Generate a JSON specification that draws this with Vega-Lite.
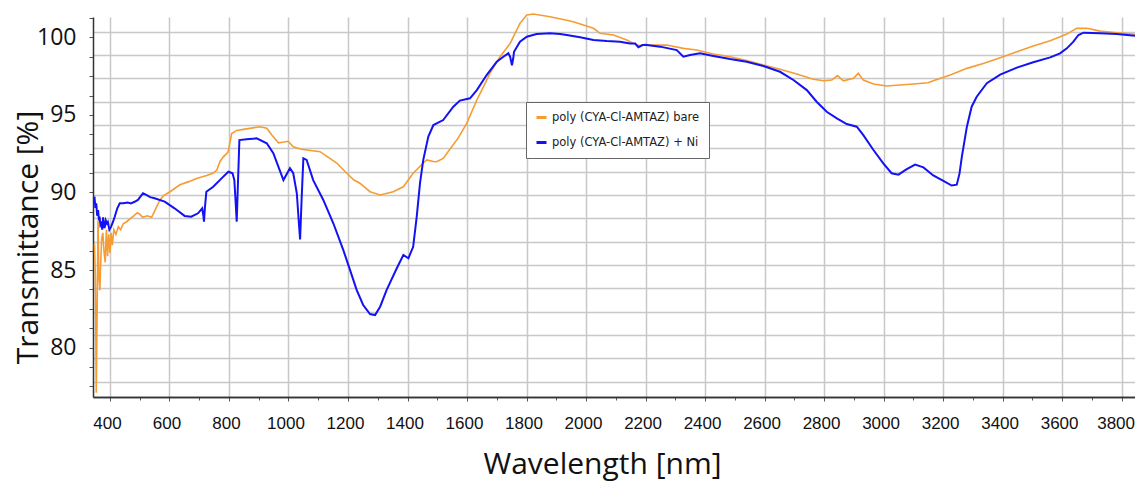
{
  "$schema": "https://vega.github.io/schema/vega-lite/v6.json",
  "width": 1042,
  "height": 380,
  "autosize": "none",
  "padding": {"left": 93, "top": 17, "right": 0, "bottom": 86},
  "background": "white",
  "config": {
    "view": {"stroke": null},
    "axis": {"domainColor": "#333333", "domainWidth": 1.5, "tickColor": "#555555", "tickSize": 4, "gridColor": "#c8c8c8", "gridWidth": 1.5, "labelColor": "#111111", "titleColor": "#111111"}
  },
  "data": {"values": [
    {"s":"b","w":348,"t":86.7},{"s":"b","w":351,"t":84.5},{"s":"b","w":354,"t":77.1},{"s":"b","w":357,"t":82.5},{"s":"b","w":360,"t":88.2},{"s":"b","w":363,"t":84.5},{"s":"b","w":366,"t":83.7},{"s":"b","w":369,"t":85.5},{"s":"b","w":372,"t":87.0},{"s":"b","w":376,"t":87.4},{"s":"b","w":380,"t":86.2},{"s":"b","w":384,"t":85.5},{"s":"b","w":388,"t":87.6},{"s":"b","w":392,"t":85.9},{"s":"b","w":396,"t":87.3},{"s":"b","w":400,"t":86.1},{"s":"b","w":404,"t":87.4},{"s":"b","w":408,"t":86.6},{"s":"b","w":413,"t":87.6},{"s":"b","w":420,"t":87.3},{"s":"b","w":428,"t":87.8},{"s":"b","w":436,"t":87.6},{"s":"b","w":445,"t":88.0},{"s":"b","w":455,"t":88.1},{"s":"b","w":467,"t":88.3},{"s":"b","w":480,"t":88.5},{"s":"b","w":492,"t":88.7},{"s":"b","w":500,"t":88.6},{"s":"b","w":510,"t":88.4},{"s":"b","w":525,"t":88.5},{"s":"b","w":540,"t":88.4},{"s":"b","w":550,"t":88.8},{"s":"b","w":560,"t":89.2},{"s":"b","w":568,"t":89.5},{"s":"b","w":580,"t":89.8},{"s":"b","w":602,"t":90.05},{"s":"b","w":635,"t":90.5},{"s":"b","w":665,"t":90.7},{"s":"b","w":691,"t":90.9},{"s":"b","w":725,"t":91.1},{"s":"b","w":746,"t":91.24},{"s":"b","w":759,"t":91.45},{"s":"b","w":770,"t":92.0},{"s":"b","w":781,"t":92.3},{"s":"b","w":797,"t":92.6},{"s":"b","w":803,"t":93.2},{"s":"b","w":809,"t":93.8},{"s":"b","w":826,"t":94.0},{"s":"b","w":859,"t":94.1},{"s":"b","w":904,"t":94.24},{"s":"b","w":927,"t":94.14},{"s":"b","w":944,"t":93.7},{"s":"b","w":966,"t":93.2},{"s":"b","w":985,"t":93.25},{"s":"b","w":999,"t":93.3},{"s":"b","w":1016,"t":92.95},{"s":"b","w":1040,"t":92.8},{"s":"b","w":1061,"t":92.74},{"s":"b","w":1106,"t":92.63},{"s":"b","w":1139,"t":92.2},{"s":"b","w":1162,"t":91.9},{"s":"b","w":1196,"t":91.24},{"s":"b","w":1220,"t":90.8},{"s":"b","w":1240,"t":90.6},{"s":"b","w":1274,"t":90.05},{"s":"b","w":1308,"t":89.84},{"s":"b","w":1352,"t":90.05},{"s":"b","w":1386,"t":90.37},{"s":"b","w":1419,"t":91.24},{"s":"b","w":1453,"t":91.9},{"s":"b","w":1465,"t":92.1},{"s":"b","w":1487,"t":92.0},{"s":"b","w":1498,"t":91.98},{"s":"b","w":1520,"t":92.2},{"s":"b","w":1543,"t":92.8},{"s":"b","w":1570,"t":93.5},{"s":"b","w":1599,"t":94.46},{"s":"b","w":1633,"t":95.96},{"s":"b","w":1655,"t":96.8},{"s":"b","w":1677,"t":97.68},{"s":"b","w":1711,"t":98.75},{"s":"b","w":1745,"t":99.61},{"s":"b","w":1778,"t":100.9},{"s":"b","w":1801,"t":101.44},{"s":"b","w":1823,"t":101.5},{"s":"b","w":1879,"t":101.33},{"s":"b","w":1935,"t":101.1},{"s":"b","w":1957,"t":101.0},{"s":"b","w":1991,"t":100.8},{"s":"b","w":2025,"t":100.58},{"s":"b","w":2047,"t":100.26},{"s":"b","w":2092,"t":100.15},{"s":"b","w":2137,"t":99.83},{"s":"b","w":2159,"t":99.61},{"s":"b","w":2180,"t":99.45},{"s":"b","w":2200,"t":99.55},{"s":"b","w":2215,"t":99.5},{"s":"b","w":2271,"t":99.5},{"s":"b","w":2327,"t":99.29},{"s":"b","w":2372,"t":99.18},{"s":"b","w":2428,"t":98.92},{"s":"b","w":2484,"t":98.75},{"s":"b","w":2540,"t":98.5},{"s":"b","w":2596,"t":98.22},{"s":"b","w":2652,"t":97.94},{"s":"b","w":2708,"t":97.64},{"s":"b","w":2764,"t":97.3},{"s":"b","w":2798,"t":97.2},{"s":"b","w":2826,"t":97.25},{"s":"b","w":2845,"t":97.53},{"s":"b","w":2865,"t":97.2},{"s":"b","w":2899,"t":97.36},{"s":"b","w":2915,"t":97.68},{"s":"b","w":2932,"t":97.25},{"s":"b","w":2966,"t":96.99},{"s":"b","w":3011,"t":96.86},{"s":"b","w":3055,"t":96.93},{"s":"b","w":3100,"t":96.99},{"s":"b","w":3150,"t":97.07},{"s":"b","w":3167,"t":97.2},{"s":"b","w":3224,"t":97.57},{"s":"b","w":3280,"t":98.0},{"s":"b","w":3335,"t":98.32},{"s":"b","w":3392,"t":98.69},{"s":"b","w":3448,"t":99.07},{"s":"b","w":3503,"t":99.44},{"s":"b","w":3560,"t":99.78},{"s":"b","w":3616,"t":100.21},{"s":"b","w":3649,"t":100.58},{"s":"b","w":3683,"t":100.58},{"s":"b","w":3728,"t":100.4},{"s":"b","w":3784,"t":100.3},{"s":"b","w":3845,"t":100.2},
    {"s":"n","w":348,"t":89.73},{"s":"n","w":351,"t":89.0},{"s":"n","w":354,"t":89.3},{"s":"n","w":357,"t":88.5},{"s":"n","w":360,"t":88.87},{"s":"n","w":363,"t":88.2},{"s":"n","w":365,"t":88.44},{"s":"n","w":368,"t":87.9},{"s":"n","w":371,"t":88.0},{"s":"n","w":374,"t":87.6},{"s":"n","w":377,"t":88.4},{"s":"n","w":380,"t":87.9},{"s":"n","w":382,"t":87.7},{"s":"n","w":386,"t":88.2},{"s":"n","w":390,"t":88.0},{"s":"n","w":393,"t":88.1},{"s":"n","w":398,"t":87.6},{"s":"n","w":404,"t":87.8},{"s":"n","w":410,"t":88.1},{"s":"n","w":416,"t":88.44},{"s":"n","w":425,"t":89.0},{"s":"n","w":433,"t":89.3},{"s":"n","w":445,"t":89.3},{"s":"n","w":460,"t":89.35},{"s":"n","w":470,"t":89.3},{"s":"n","w":483,"t":89.4},{"s":"n","w":494,"t":89.52},{"s":"n","w":505,"t":89.8},{"s":"n","w":511,"t":89.95},{"s":"n","w":522,"t":89.84},{"s":"n","w":535,"t":89.7},{"s":"n","w":550,"t":89.63},{"s":"n","w":584,"t":89.41},{"s":"n","w":617,"t":88.98},{"s":"n","w":651,"t":88.49},{"s":"n","w":673,"t":88.44},{"s":"n","w":696,"t":88.66},{"s":"n","w":710,"t":88.98},{"s":"n","w":714,"t":88.5},{"s":"n","w":716,"t":88.12},{"s":"n","w":719,"t":89.0},{"s":"n","w":724,"t":90.05},{"s":"n","w":747,"t":90.37},{"s":"n","w":781,"t":91.02},{"s":"n","w":798,"t":91.34},{"s":"n","w":812,"t":91.24},{"s":"n","w":818,"t":90.8},{"s":"n","w":822,"t":89.5},{"s":"n","w":826,"t":88.12},{"s":"n","w":830,"t":90.5},{"s":"n","w":835,"t":93.38},{"s":"n","w":859,"t":93.43},{"s":"n","w":893,"t":93.49},{"s":"n","w":927,"t":93.17},{"s":"n","w":949,"t":92.53},{"s":"n","w":983,"t":90.8},{"s":"n","w":1005,"t":91.56},{"s":"n","w":1016,"t":91.24},{"s":"n","w":1028,"t":89.95},{"s":"n","w":1035,"t":88.0},{"s":"n","w":1039,"t":86.98},{"s":"n","w":1044,"t":89.5},{"s":"n","w":1050,"t":92.2},{"s":"n","w":1061,"t":92.1},{"s":"n","w":1083,"t":90.8},{"s":"n","w":1117,"t":89.52},{"s":"n","w":1151,"t":88.0},{"s":"n","w":1184,"t":86.3},{"s":"n","w":1207,"t":85.0},{"s":"n","w":1229,"t":83.72},{"s":"n","w":1251,"t":82.75},{"s":"n","w":1274,"t":82.17},{"s":"n","w":1291,"t":82.1},{"s":"n","w":1308,"t":82.64},{"s":"n","w":1330,"t":83.72},{"s":"n","w":1364,"t":85.12},{"s":"n","w":1386,"t":85.97},{"s":"n","w":1403,"t":85.76},{"s":"n","w":1419,"t":86.5},{"s":"n","w":1431,"t":88.44},{"s":"n","w":1442,"t":90.6},{"s":"n","w":1453,"t":92.1},{"s":"n","w":1470,"t":93.6},{"s":"n","w":1487,"t":94.35},{"s":"n","w":1520,"t":94.67},{"s":"n","w":1554,"t":95.53},{"s":"n","w":1576,"t":95.92},{"s":"n","w":1610,"t":96.07},{"s":"n","w":1633,"t":96.6},{"s":"n","w":1666,"t":97.57},{"s":"n","w":1700,"t":98.43},{"s":"n","w":1722,"t":98.75},{"s":"n","w":1739,"t":98.97},{"s":"n","w":1745,"t":98.75},{"s":"n","w":1751,"t":98.2},{"s":"n","w":1755,"t":98.6},{"s":"n","w":1758,"t":99.07},{"s":"n","w":1778,"t":99.72},{"s":"n","w":1801,"t":100.04},{"s":"n","w":1834,"t":100.21},{"s":"n","w":1879,"t":100.26},{"s":"n","w":1913,"t":100.22},{"s":"n","w":1935,"t":100.15},{"s":"n","w":1980,"t":100.0},{"s":"n","w":2025,"t":99.83},{"s":"n","w":2070,"t":99.76},{"s":"n","w":2114,"t":99.72},{"s":"n","w":2148,"t":99.61},{"s":"n","w":2165,"t":99.6},{"s":"n","w":2176,"t":99.36},{"s":"n","w":2190,"t":99.5},{"s":"n","w":2204,"t":99.5},{"s":"n","w":2249,"t":99.4},{"s":"n","w":2305,"t":99.18},{"s":"n","w":2327,"t":98.75},{"s":"n","w":2350,"t":98.86},{"s":"n","w":2383,"t":98.97},{"s":"n","w":2428,"t":98.8},{"s":"n","w":2484,"t":98.6},{"s":"n","w":2540,"t":98.43},{"s":"n","w":2596,"t":98.15},{"s":"n","w":2652,"t":97.78},{"s":"n","w":2697,"t":97.25},{"s":"n","w":2742,"t":96.6},{"s":"n","w":2775,"t":95.85},{"s":"n","w":2809,"t":95.2},{"s":"n","w":2843,"t":94.78},{"s":"n","w":2876,"t":94.41},{"s":"n","w":2910,"t":94.24},{"s":"n","w":2932,"t":93.7},{"s":"n","w":2966,"t":92.74},{"s":"n","w":2999,"t":91.88},{"s":"n","w":3027,"t":91.24},{"s":"n","w":3050,"t":91.15},{"s":"n","w":3078,"t":91.5},{"s":"n","w":3106,"t":91.8},{"s":"n","w":3134,"t":91.62},{"s":"n","w":3167,"t":91.1},{"s":"n","w":3201,"t":90.75},{"s":"n","w":3229,"t":90.45},{"s":"n","w":3246,"t":90.5},{"s":"n","w":3255,"t":91.2},{"s":"n","w":3263,"t":92.3},{"s":"n","w":3280,"t":94.24},{"s":"n","w":3296,"t":95.53},{"s":"n","w":3313,"t":96.17},{"s":"n","w":3347,"t":97.04},{"s":"n","w":3392,"t":97.6},{"s":"n","w":3448,"t":98.05},{"s":"n","w":3503,"t":98.39},{"s":"n","w":3560,"t":98.71},{"s":"n","w":3593,"t":98.97},{"s":"n","w":3616,"t":99.29},{"s":"n","w":3638,"t":99.72},{"s":"n","w":3655,"t":100.15},{"s":"n","w":3672,"t":100.3},{"s":"n","w":3728,"t":100.26},{"s":"n","w":3784,"t":100.21},{"s":"n","w":3845,"t":100.1}
  ]},
  "layer": [
    {
      "transform": [{"filter": "datum.s === 'b'"}],
      "mark": {"type": "line", "strokeWidth": 1.6, "clip": false},
      "encoding": {
        "x": {"field": "w", "type": "quantitative",
          "scale": {"domain": [343, 3845], "nice": false, "zero": false},
          "axis": {"orient": "bottom", "values": [400,600,800,1000,1200,1400,1600,1800,2000,2200,2400,2600,2800,3000,3200,3400,3600,3800], "grid": true, "format": "d", "labelFont": "Liberation Sans", "labelFontSize": 17, "labelPadding": 14, "labelFlush": false, "labelOverlap": false,
            "labelOffset": {"condition": {"test": "datum.value === 3800", "value": -6}, "value": -3},
            "title": "Wavelength [nm]", "titleFont": "Open Sans", "titleFontSize": 30, "titleFontWeight": "normal", "titleX": 509, "titleY": 76, "titleAlign": "center", "titleBaseline": "alphabetic", "titleAnchor": null}},
        "y": {"field": "t", "type": "quantitative",
          "scale": {"domain": [76.82, 101.31], "nice": false, "zero": false},
          "axis": {"orient": "left", "values": [77.81,79.32,80.82,82.32,83.83,85.33,86.83,88.34,89.84,91.34,92.84,94.35,95.85,97.35,98.86,100.36], "grid": true, "labels": false, "ticks": false, "domain": false, "title": null}},
        "color": {"field": "s", "type": "nominal",
          "scale": {"domain": ["b", "n"], "range": ["#F59C33", "#1212F5"]},
          "legend": {"orient": "none", "legendX": 433, "legendY": 85, "title": null, "symbolType": "stroke", "symbolSize": 100, "symbolStrokeWidth": 3, "labelFont": "DejaVu Sans", "labelFontSize": 11.5, "labelColor": "#222222", "labelOffset": 4, "rowPadding": 12, "padding": 9, "fillColor": "white", "strokeColor": "#666666",
            "labelExpr": "datum.value === 'b' ? 'poly (CYA-Cl-AMTAZ) bare' : 'poly (CYA-Cl-AMTAZ) + Ni'"}}
      }
    },
    {
      "transform": [{"filter": "datum.s === 'n'"}],
      "mark": {"type": "line", "strokeWidth": 2, "clip": false},
      "encoding": {
        "x": {"field": "w", "type": "quantitative",
          "axis": {"orient": "bottom", "values": [500,700,900,1100,1300,1500,1700,1900,2100,2300,2500,2700,2900,3100,3300,3500,3700], "grid": false, "labels": false, "tickSize": 3, "title": null}},
        "y": {"field": "t", "type": "quantitative",
          "axis": {"orient": "left", "values": [77.5,78.75,80,81.25,82.5,83.75,85,86.25,87.5,88.75,90,91.25,92.5,93.75,95,96.25,97.5,98.75,100,101.25], "grid": false, "labelExpr": "datum.value % 5 === 0 ? datum.label : ''", "labelFont": "Open Sans", "labelFontSize": 23, "labelPadding": 13, "labelOverlap": false, "labelFlush": false,
            "title": "Transmittance [%]", "titleFont": "Open Sans", "titleFontSize": 30, "titleFontWeight": "normal", "titleX": -56, "titleY": 220, "titleAngle": -90, "titleAlign": "center", "titleBaseline": "alphabetic", "titleAnchor": null}},
        "color": {"field": "s", "type": "nominal"}
      }
    }
  ],
  "resolve": {"axis": {"x": "independent", "y": "independent"}}
}
